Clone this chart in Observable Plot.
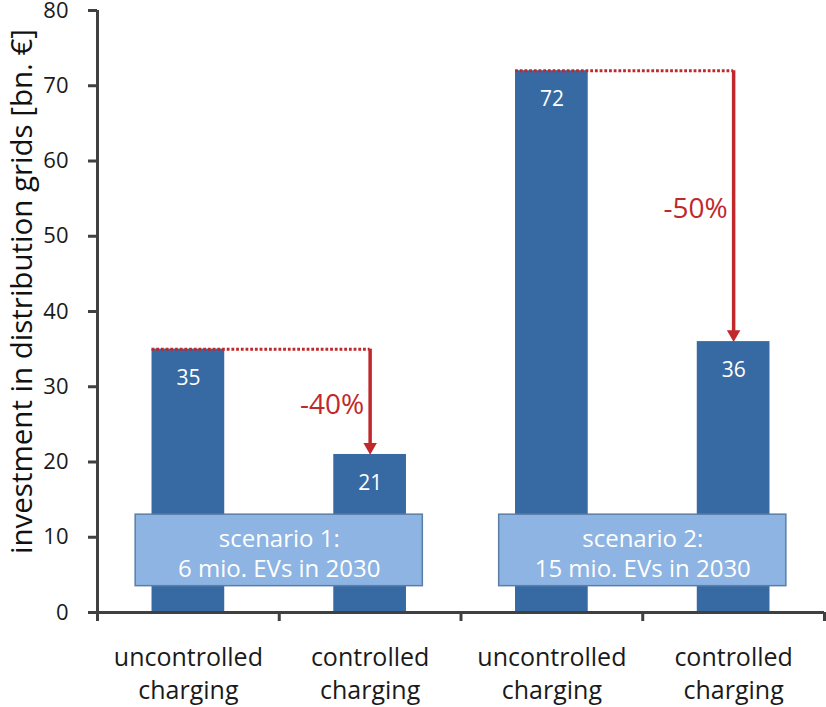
<!DOCTYPE html>
<html>
<head>
<meta charset="utf-8">
<script src="https://cdn.jsdelivr.net/npm/d3@7"></script>
<script src="https://cdn.jsdelivr.net/npm/@observablehq/plot@0.6"></script>
<style>
  html, body { margin: 0; padding: 0; background: #fff; }
  #chart svg { display: block; }
</style>
</head>
<body>
<div id="chart"></div>
<script>
// ---- data ----
const scenarioLabels = ["scenario 1:\n6 mio. EVs in 2030", "scenario 2:\n15 mio. EVs in 2030"];
const chargingModes = ["uncontrolled\ncharging", "controlled\ncharging"];
const scenario1Values = [35, 21];
const scenario2Values = [72, 36];
const yTicks = [0, 10, 20, 30, 40, 50, 60, 70, 80];
const yLabel = "investment in distribution grids [bn. €]";

// ---- derived tables ----
const seriesValues = [scenario1Values, scenario2Values];
const bars = [];
seriesValues.forEach((vals, s) => vals.forEach((v, m) => bars.push({i: s * 2 + m, s, mode: chargingModes[m], value: v})));
const scen = scenarioLabels.map((label, s) => ({
  s, label,
  from: seriesValues[s][0],
  to: seriesValues[s][1],
  pct: Math.round((seriesValues[s][1] - seriesValues[s][0]) / seriesValues[s][0] * 100) + "%"
}));

// ---- layout constants ----
const RED = "#c0282c";
const BLUE = "#376aa3";
const AXIS = "#404040";
const boxBottom = 3.5, boxTop = 13.0;

const chart = Plot.plot({
  width: 826,
  height: 707,
  marginLeft: 97,
  marginRight: 2,
  marginTop: 10,
  marginBottom: 95,
  x: {domain: [0, bars.length], axis: null},
  y: {domain: [0, 80], axis: null},
  style: {fontFamily: "'Open Sans', 'Noto Sans', sans-serif", background: "#fff", color: "#1a1a1a"},
  marks: [
    // bars
    Plot.rectY(bars, {x1: d => d.i + 0.3, x2: d => d.i + 0.7, y: "value", fill: BLUE}),
    // value labels
    Plot.text(bars, {x: d => d.i + 0.5, y: "value", text: d => String(d.value), fill: "white", fontSize: 21, dy: 29}),
    // scenario boxes
    Plot.rect(scen, {x1: d => 2 * d.s + 0.21, x2: d => 2 * d.s + 1.79, y1: boxBottom, y2: boxTop, fill: "#8db4e2", stroke: "#5b7ea7", strokeWidth: 1.5}),
    Plot.text(scen, {x: d => 2 * d.s + 1, y: (boxBottom + boxTop) / 2, text: "label", fill: "white", fontSize: 24, lineHeight: 1.25, dy: 2}),
    // dotted reference line
    Plot.ruleY(scen, {y: "from", x1: d => 2 * d.s + 0.3, x2: d => 2 * d.s + 1.5, stroke: RED, strokeWidth: 3, strokeDasharray: "2.8,1.9"}),
    // arrow shaft
    Plot.ruleX(scen, {x: d => 2 * d.s + 1.5, y1: "from", y2: "to", stroke: RED, strokeWidth: 3.5, insetBottom: 10}),
    // arrow head
    Plot.dot(scen, {x: d => 2 * d.s + 1.5, y: "to", symbol: "triangle", rotate: 180, r: 5, fill: RED, stroke: "none", dy: -7.5}),
    // percent labels
    Plot.text(scen, {x: d => 2 * d.s + 1.5, y: d => (d.from + d.to) / 2, text: "pct", fill: RED, fontSize: 28, textAnchor: "end", dx: -6, dy: 3}),
    // axes
    Plot.axisY({ticks: yTicks, tickSize: 9, tickPadding: 20, fontSize: 22, stroke: AXIS, strokeWidth: 3, fill: "#1a1a1a", label: null}),
    Plot.ruleX([0], {stroke: AXIS, strokeWidth: 3}),
    Plot.ruleY([0], {stroke: AXIS, strokeWidth: 3, insetLeft: -1.5}),
    Plot.axisX({ticks: d3.range(bars.length + 1), tickSize: 9, stroke: AXIS, strokeWidth: 3, tickFormat: () => "", label: null}),
    // category labels
    Plot.text(bars, {x: d => d.i + 0.5, text: "mode", frameAnchor: "bottom", lineAnchor: "top", dy: 30, fontSize: 25, lineHeight: 1.32, fill: "#1a1a1a"}),
    // y-axis title
    Plot.text([yLabel], {text: d => d, frameAnchor: "left", textAnchor: "middle", lineAnchor: "middle", rotate: -90, dx: -75, dy: -20, fontSize: 29.5, fill: "#111"})
  ]
});
document.getElementById("chart").append(chart);
</script>
</body>
</html>
